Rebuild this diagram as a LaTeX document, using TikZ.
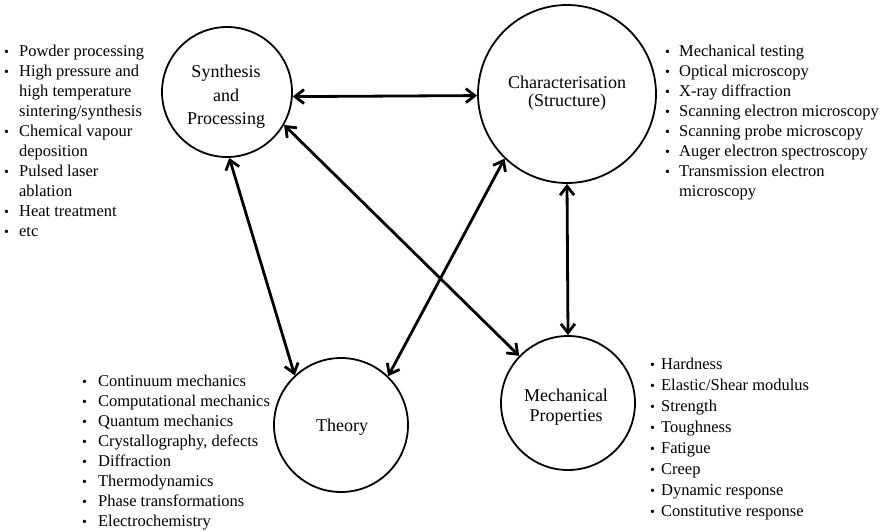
\documentclass[tikz,border=0pt]{standalone}
\usepackage{fontspec}
\setmainfont{Liberation Serif}
\usepackage{tikz}
\usetikzlibrary{arrows.meta}
\newcommand{\bl}{{\fontsize{14}{14}\selectfont\textbullet}}

\begin{document}
\begin{tikzpicture}[x=1pt, y=-1pt,
    phase/.style={draw, circle, line width=1.8pt, inner sep=0pt},
    phaselabel/.style={align=center, inner sep=0pt, font=\fontsize{18}{20}\selectfont},
    link/.style={{Straight Barb[length=9pt,width=14pt]}-{Straight Barb[length=9pt,width=14pt]}, line width=2.8pt},
    itemlist/.style={inner sep=0pt, anchor=base west, font=\fontsize{16.5}{20}\selectfont}]
    \useasboundingbox (0,0) rectangle (890,531);

    % Circles
    \node[phase, minimum size=130pt] (synth) at (227,92) {};
    \node[phase, minimum size=178pt] (charac) at (567,94) {};
    \node[phase, minimum size=134pt] (theory) at (341,425) {};
    \node[phase, minimum size=134pt] (mech) at (568,403) {};

    % Circle labels
    \node[phaselabel, font=\fontsize{18}{23.5}\selectfont] (synthtext) at (226,97) {Synthesis\\and\\Processing};
    \node[phaselabel, font=\fontsize{18}{18.5}\selectfont] (charactext) at (567,93) {Characterisation\\(Structure)};
    \node[phaselabel] (theorytext) at (342,427) {Theory};
    \node[phaselabel] (mechtext) at (566,407) {Mechanical\\Properties};

    % Links between the circles
    \draw[link] (synth.-4) -- (charac.181);
    \draw[link] (synth.-88) -- (theory.133);
    \draw[link] (synth.-30) -- (mech.136);
    \draw[link] (charac.-134) -- (theory.46);
    \draw[link] (charac.-90) -- (mech.90);

    % Lists
    \node[itemlist] (synthlist) at (4,56) {\begin{tabular}[t]{@{}c@{\hspace{10pt}}l@{}}
        \bl & Powder processing\\
        \bl & High pressure and\\
            & high temperature\\
            & sintering/synthesis\\
        \bl & Chemical vapour\\
            & deposition\\
        \bl & Pulsed laser\\
            & ablation\\
        \bl & Heat treatment\\
        \bl & etc
    \end{tabular}};
    \node[itemlist] (characlist) at (665,56) {\begin{tabular}[t]{@{}c@{\hspace{9pt}}l@{}}
        \bl & Mechanical testing\\
        \bl & Optical microscopy\\
        \bl & X-ray diffraction\\
        \bl & Scanning electron microscopy\\
        \bl & Scanning probe microscopy\\
        \bl & Auger electron spectroscopy\\
        \bl & Transmission electron\\
            & microscopy
    \end{tabular}};
    \node[itemlist] (theorylist) at (82,386) {\begin{tabular}[t]{@{}c@{\hspace{11pt}}l@{}}
        \bl & Continuum mechanics\\
        \bl & Computational mechanics\\
        \bl & Quantum mechanics\\
        \bl & Crystallography, defects\\
        \bl & Diffraction\\
        \bl & Thermodynamics\\
        \bl & Phase transformations\\
        \bl & Electrochemistry
    \end{tabular}};
    \node[itemlist, font=\fontsize{16.5}{21}\selectfont] (mechlist) at (650,369) {\begin{tabular}[t]{@{}c@{\hspace{6pt}}l@{}}
        \bl & Hardness\\
        \bl & Elastic/Shear modulus\\
        \bl & Strength\\
        \bl & Toughness\\
        \bl & Fatigue\\
        \bl & Creep\\
        \bl & Dynamic response\\
        \bl & Constitutive response
    \end{tabular}};
\end{tikzpicture}
\end{document}
